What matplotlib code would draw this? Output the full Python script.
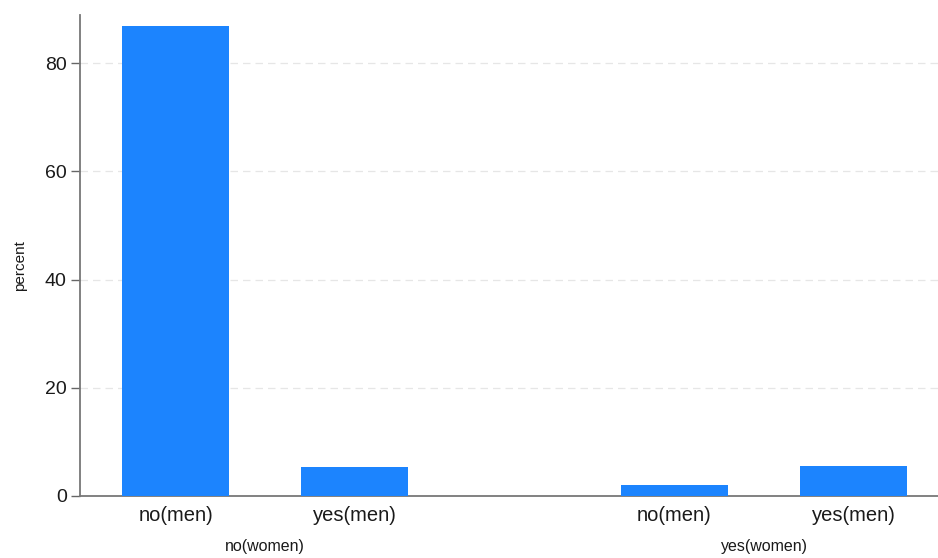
import matplotlib
matplotlib.use("Agg")
import matplotlib.pyplot as plt
from matplotlib.transforms import blended_transform_factory

plt.rcParams['font.family'] = ['Liberation Sans', 'DejaVu Sans']

groups = ["no(women)", "yes(women)"]
categories = ["no(men)", "yes(men)"]
values = [[86.9, 5.4], [2.0, 5.6]]
yticks = [0, 20, 40, 60, 80]

W, H = 938, 558
fig = plt.figure(figsize=(W / 100, H / 100), dpi=100)
ax = fig.add_axes([80 / W, 1 - 496 / H, 1 - 80 / W, (496 - 15) / H])

bar_color = "#1c84fe"
group_offset = [0.0, 2.788]
positions, heights, labels = [], [], []
for gi, g in enumerate(groups):
    for ci, c in enumerate(categories):
        positions.append(group_offset[gi] + ci)
        heights.append(values[gi][ci])
        labels.append(c)

ax.bar(positions, heights, width=0.6, color=bar_color, zorder=3)
ax.set_xlim(-0.534, 4.26)
ax.set_ylim(0, 88.9)
ax.set_yticks(yticks)
ax.set_yticklabels([str(t) for t in yticks], fontsize=14, color="#1a1a1a")
ax.set_xticks(positions)
ax.set_xticklabels(labels, fontsize=14.5, color="#1a1a1a")
ax.tick_params(axis='y', length=6.5, width=1, color="#666666", pad=3)
ax.tick_params(axis='x', length=0, pad=7)

for t in yticks[1:]:
    ax.axhline(t, color="#e6e6e6", linestyle=(0, (6, 4)), linewidth=0.9, zorder=1)

for s in ["top", "right"]:
    ax.spines[s].set_visible(False)
for s in ["left", "bottom"]:
    ax.spines[s].set_color("#777777")
    ax.spines[s].set_linewidth(1.3)

trans = blended_transform_factory(ax.transData, fig.transFigure)
for gi, g in enumerate(groups):
    cx = group_offset[gi] + 0.5
    ax.text(cx, 1 - 546 / H, g, transform=trans, ha="center", va="center",
            fontsize=11.5, color="#1a1a1a")

ylab = ax.set_ylabel("percent", fontsize=11, color="#1a1a1a", va="center")
ax.yaxis.set_label_coords((20 - 80) / (W - 80), (496 - 266) / (496 - 15))

fig.savefig("out.png", dpi=100)
